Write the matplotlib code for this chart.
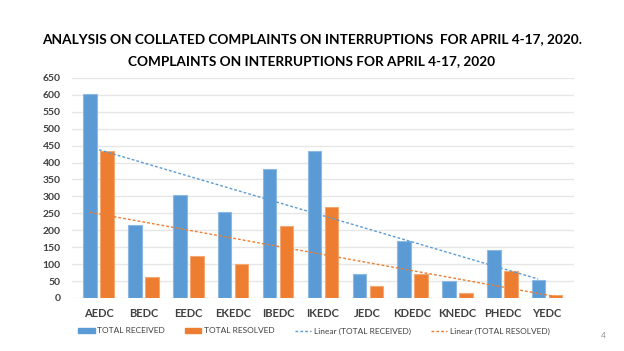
import matplotlib
matplotlib.use("Agg")
import matplotlib.pyplot as plt
import numpy as np
from matplotlib.lines import Line2D
from matplotlib.patches import Patch

discos = ["AEDC", "BEDC", "EEDC", "EKEDC", "IBEDC", "IKEDC", "JEDC",
          "KDEDC", "KNEDC", "PHEDC", "YEDC"]
received = [603, 215, 303, 255, 380, 435, 72, 168, 50, 142, 52]
resolved = [435, 63, 125, 100, 213, 270, 36, 70, 14, 80, 8]

blue = "#5B9BD5"
orange = "#ED7D31"
plt.rcParams["font.family"] = ["Lato", "DejaVu Sans"]

fig = plt.figure(figsize=(6.24, 3.51), dpi=100)
ax = fig.add_axes([0.115, 0.151, 0.805, 0.627])

x = np.arange(len(discos))
w = 0.3
ax.bar(x - w/2 - 0.04, received, w, color=blue, edgecolor="#8DB8E2", linewidth=0.8, zorder=3)
ax.bar(x + w/2 + 0.04, resolved, w, color=orange, edgecolor="#F4A873", linewidth=0.8, zorder=3)

# linear trend lines (least squares, as in the spreadsheet)
k1, b1 = np.polyfit(x, received, 1)
k2, b2 = np.polyfit(x, resolved, 1)
xt = np.array([x[0] - 0.2, x[-1] - 0.2])
ax.plot(xt, k1*xt + b1, ls=(0, (2, 1.5)), color=blue, lw=1, zorder=4)
xt2 = np.array([x[0] - 0.2, x[-1] + 0.2])
ax.plot(xt2, k2*xt2 + b2, ls=(0, (2, 1.5)), color=orange, lw=1, zorder=4)

ax.set_ylim(0, 650)
ax.set_yticks(range(0, 651, 50))
ax.set_xlim(-0.6, len(discos) - 0.4)
ax.set_xticks(x)
ax.set_xticklabels(discos)
ax.grid(axis="y", color="#E6E6E6", lw=1, zorder=0)
for s in ax.spines.values():
    s.set_visible(False)
ax.tick_params(length=0, labelsize=7.5, labelcolor="#404040")
ax.tick_params(axis="y", pad=8)
ax.tick_params(axis="x", pad=7, labelsize=8)
for lab in ax.get_xticklabels() + ax.get_yticklabels():
    lab.set_fontweight("bold")

fig.text(0.5, 0.89, "ANALYSIS ON COLLATED COMPLAINTS ON INTERRUPTIONS  FOR APRIL 4-17, 2020.",
         ha="center", va="center", fontsize=9.8, fontweight="bold")
fig.text(0.5, 0.826, "COMPLAINTS ON INTERRUPTIONS FOR APRIL 4-17, 2020",
         ha="center", va="center", fontsize=9.8, fontweight="bold")

handles = [Patch(color=blue), Patch(color=orange),
           Line2D([], [], color=blue, ls=(0, (2, 1.5)), lw=1),
           Line2D([], [], color=orange, ls=(0, (2, 1.5)), lw=1)]
labels = ["TOTAL RECEIVED", "TOTAL RESOLVED", "Linear (TOTAL RECEIVED)", "Linear (TOTAL RESOLVED)"]
leg = fig.legend(handles, labels, loc="center", bbox_to_anchor=(0.503, 0.057), ncol=4,
                 frameon=False, fontsize=6, handlelength=2.0, handleheight=0.4,
                 columnspacing=2.4, handletextpad=0.3)
for t in leg.get_texts():
    t.set_color("#404040")

fig.text(0.967, 0.043, "4", fontsize=6, color="#909090", ha="center", va="center")

fig.savefig("out.png", dpi=100)
